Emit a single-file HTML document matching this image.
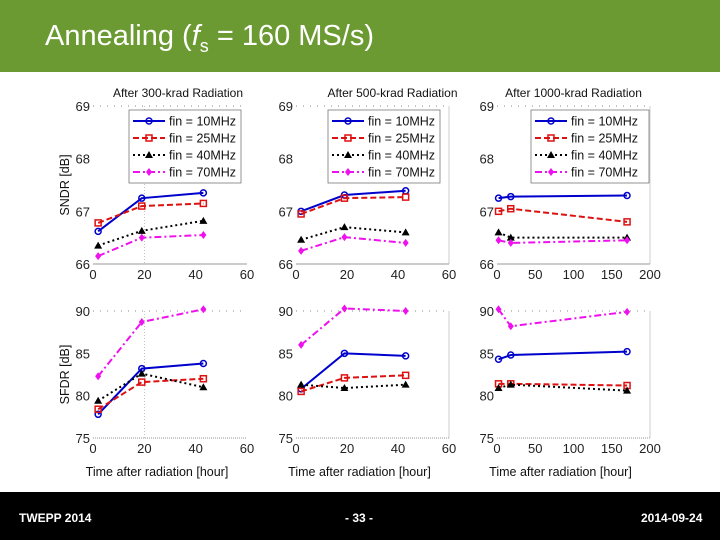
<!DOCTYPE html>
<html><head><meta charset="utf-8"><style>
body{margin:0;width:720px;height:540px;overflow:hidden;background:#fff;font-family:"Liberation Sans",sans-serif}
#hdr{position:absolute;left:0;top:0;width:720px;height:72px;background:#6b9a32}
#title{position:absolute;left:45px;top:20px;color:#fff;font-size:29px}
#ftr{position:absolute;left:0;top:492px;width:720px;height:48px;background:#000;color:#fff;font-size:12px;font-weight:bold}
#ftr span{position:absolute;top:19px}
svg{position:absolute;left:0;top:0}
</style></head><body>
<div id="hdr"><div id="title">Annealing (<i>f</i><sub style="font-size:18px">s</sub> = 160 MS/s)</div></div>
<svg id="c" width="720" height="540"></svg>
<div id="ftr">
<span style="left:19px">TWEPP 2014</span>
<span style="left:345px">- 33 -</span>
<span style="left:641px">2014-09-24</span>
</div>
<script>
const seriesNames=["fin = 10MHz","fin = 25MHz","fin = 40MHz","fin = 70MHz"];
const xShort=[2,19,43];
const xLong=[2,18,170];
const sndr300=[[66.62,67.25,67.35],[66.78,67.1,67.15],[66.35,66.63,66.82],[66.15,66.5,66.55]];
const sndr500=[[67.0,67.31,67.39],[66.95,67.25,67.27],[66.46,66.7,66.6],[66.25,66.51,66.4]];
const sndr1000=[[67.25,67.28,67.3],[67.0,67.05,66.8],[66.6,66.5,66.5],[66.45,66.4,66.45]];
const sfdr300=[[77.8,83.2,83.8],[78.4,81.6,82.0],[79.4,82.6,81.0],[82.3,88.7,90.2]];
const sfdr500=[[80.8,85.0,84.7],[80.5,82.1,82.4],[81.3,80.9,81.3],[86.0,90.3,90.0]];
const sfdr1000=[[84.3,84.8,85.2],[81.4,81.4,81.2],[80.9,81.3,80.6],[90.2,88.2,89.9]];
const xTicksShort=[0,20,40,60];
const xTicksLong=[0,50,100,150,200];
const yTicksTop=[66,67,68,69];
const yTicksBot=[75,80,85,90];
const titles=["After 300-krad Radiation","After 500-krad Radiation","After 1000-krad Radiation"];
const colors=["#0000cc","#dd1111","#000","#ee11ee"];
const dashes=["","6,3","2,3","7,3,2,3"];
const svg=document.getElementById('c');
const NS="http://www.w3.org/2000/svg";
function mk(t,a,p){const e=document.createElementNS(NS,t);for(const k in a)e.setAttribute(k,a[k]);(p||svg).appendChild(e);return e;}
const cols=[{x0:93,x1:247,xmax:60,xs:xShort,xt:xTicksShort},{x0:296,x1:449,xmax:60,xs:xShort,xt:xTicksShort},{x0:497,x1:650,xmax:200,xs:xLong,xt:xTicksLong}];
const rows=[{y0:264,y1:106,ymin:66,ymax:69,yt:yTicksTop,data:[sndr300,sndr500,sndr1000],lab:"SNDR [dB]"},
            {y0:438,y1:311,ymin:75,ymax:90,yt:yTicksBot,data:[sfdr300,sfdr500,sfdr1000],lab:"SFDR [dB]"}];
function marker(g,i,x,y){
  const c=colors[i];
  if(i==0){const e=mk('circle',{cx:x,cy:y,r:3,fill:'none',stroke:c,'stroke-width':1.5},g);}
  else if(i==1){const e=mk('rect',{x:x-3,y:y-3,width:6,height:6,fill:'none',stroke:c,'stroke-width':1.5},g);}
  else if(i==2){const e=mk('polygon',{points:`${x},${y-4} ${x-4},${y+3} ${x+4},${y+3}`,fill:c},g);}
  else {const e=mk('polygon',{points:`${x},${y-4} ${x-3},${y} ${x},${y+4} ${x+3},${y}`,fill:c},g);}
}
rows.forEach((r,ri)=>cols.forEach((c,ci)=>{
  const g=mk('g',{});
  
  
  const X=v=>c.x0+(c.x1-c.x0)*v/c.xmax, Y=v=>r.y0-(r.y0-r.y1)*(v-r.ymin)/(r.ymax-r.ymin);
  mk('line',{x1:c.x0,y1:r.y1,x2:c.x1,y2:r.y1,stroke:'#888','stroke-dasharray':'1,6'},g);
  if(ri==0) mk('line',{x1:c.x0,y1:r.y0,x2:c.x1,y2:r.y0,stroke:'#777','stroke-width':0.7},g);
  else mk('line',{x1:c.x0,y1:r.y0,x2:c.x1,y2:r.y0,stroke:'#777','stroke-width':0.8,'stroke-dasharray':'1,1'},g);
  if(ci>0) mk('line',{x1:c.x1,y1:r.y1,x2:c.x1,y2:r.y0,stroke:'#aaa','stroke-width':0.6},g);
  if(ci==0) mk('line',{x1:X(20),y1:r.y1,x2:X(20),y2:r.y0,stroke:'#999','stroke-dasharray':'1,2','stroke-width':0.6},g);
  r.yt.forEach(t=>{const e=mk('text',{x:c.x0-3,y:Y(t)+5,'text-anchor':'end','font-size':13,fill:'#222'},g);e.textContent=t;});
  c.xt.forEach(t=>{const e=mk('text',{x:X(t),y:r.y0+15,'text-anchor':'middle','font-size':13,fill:'#222'},g);e.textContent=t;});
  if(ri==0){const e=mk('text',{x:(c.x0+c.x1)/2+(ci==0?8:ci==1?20:0),y:97,'text-anchor':'middle','font-size':12,fill:'#111'},g);e.textContent=titles[ci];}
  else {const e=mk('text',{x:(c.x0+c.x1)/2-13,y:r.y0+38,'text-anchor':'middle','font-size':12.5,fill:'#111'},g);e.textContent="Time after radiation [hour]";}
  if(ci==0){const e=mk('text',{x:0,y:0,transform:`translate(69,${(r.y0+r.y1)/2}) rotate(-90)`,'text-anchor':'middle','font-size':12.5,fill:'#111'},g);e.textContent=r.lab;}
  r.data[ci].forEach((vals,si)=>{
    const pts=vals.map((v,k)=>X(c.xs[k])+','+Y(v)).join(' ');
    const l=mk('polyline',{points:pts,fill:'none',stroke:colors[si],'stroke-width':2,'stroke-dasharray':dashes[si]},g);
    
    
    vals.forEach((v,k)=>marker(g,si,X(c.xs[k]),Y(v)));
  });
  if(ri==0){
    const lx=ci==0?129:ci==1?328:531, ly=110, lw=ci==2?118:112;
    const lg=mk('g',{},g);
    
    
    mk('rect',{x:lx,y:ly,width:lw,height:73,fill:'#fff',stroke:'#666','stroke-width':0.7},lg);
    seriesNames.forEach((n,si)=>{
      const yy=ly+11+si*17;
      mk('line',{x1:lx+4,y1:yy,x2:lx+36,y2:yy,stroke:colors[si],'stroke-width':2,'stroke-dasharray':dashes[si]},lg);
      marker(lg,si,lx+20,yy);
      const t=mk('text',{x:lx+40,y:yy+4.5,'font-size':12.5,fill:'#111'},lg);t.textContent=n;
      
      
    });
  }
}));
</script>
</body></html>
